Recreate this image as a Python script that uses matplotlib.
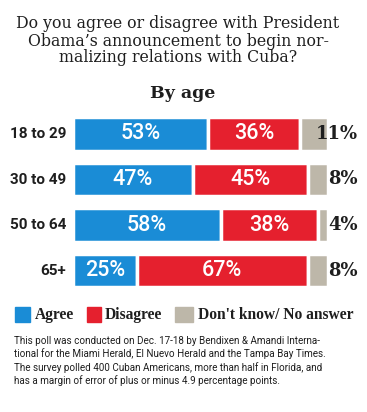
import numpy as np
import matplotlib
matplotlib.use("Agg")
import matplotlib.pyplot as plt

groups = ["18 to 29", "30 to 49", "50 to 64", "65+"]
agree = [53, 47, 58, 25]
disagree = [36, 45, 38, 67]
dont_know = [11, 8, 4, 8]
legend_labels = ["Agree", "Disagree", "Don't know/ No answer"]
title = ("Do you agree or disagree with President\n"
         "Obama\u2019s announcement to begin nor-\n"
         "malizing relations with Cuba?")
subtitle = "By age"
note = ("This poll was conducted on Dec. 17-18 by Bendixen & Amandi Interna-\n"
        "tional for the Miami Herald, El Nuevo Herald and the Tampa Bay Times.\n"
        "The survey polled 400 Cuban Americans, more than half in Florida, and\n"
        "has a margin of error of plus or minus 4.9 percentage points.")

C = {"agree": "#1a8cd6", "disagree": "#e5202e", "dk": "#bdb7a9", "ink": "#1e1e1e"}
SANS = ["Roboto", "DejaVu Sans"]
SLAB = ["DejaVu Serif"]
TIMES = ["Liberation Serif", "DejaVu Serif"]

W, H = 367, 412
fig = plt.figure(figsize=(W / 100, H / 100), dpi=100)
fig.patch.set_facecolor("white")

def px(x, y):
    return x / W, 1 - y / H

fig.text(*px(178, 41), title, ha="center", va="center", fontsize=11.3,
         family=SLAB, color=C["ink"], linespacing=1.0)
fig.text(*px(183, 94), subtitle, ha="center", va="center", fontsize=12.5,
         family=SLAB, weight="bold", color=C["ink"])

ax = fig.add_axes([73 / W, 1 - 292 / H, (328 - 73) / W, 180 / H])
ax.set_xlim(0, 100)
ax.set_ylim(3.4725, -0.4835)
ax.axis("off")

y = np.arange(len(groups))
a = np.array(agree); d = np.array(disagree); k = np.array(dont_know)
ax.barh(y, a, height=0.73, color=C["agree"], edgecolor="white", lw=2.5)
ax.barh(y, d, left=a, height=0.73, color=C["disagree"], edgecolor="white", lw=2.5)
ax.barh(y, k, left=a + d, height=0.73, color=C["dk"], edgecolor="white", lw=2.5)

for i in y:
    ax.text(a[i] / 2, i, f"{a[i]}%", ha="center", va="center", color="white",
            fontsize=15.5, family=SANS, weight="medium")
    ax.text(a[i] + d[i] / 2, i, f"{d[i]}%", ha="center", va="center", color="white",
            fontsize=15.5, family=SANS, weight="medium")
    ax.text(111.8, i, f"{k[i]}%", ha="right", va="center", color=C["ink"],
            fontsize=13, family=SLAB, weight="bold", clip_on=False)
    ax.text(-2.7, i, groups[i], ha="right", va="center", color=C["ink"],
            fontsize=11, family=SANS, weight="bold", clip_on=False)

# legend
for (x0, x1, tx), lab, col in zip([(15, 30, 35), (87, 101, 105), (175, 193, 198)],
                                  legend_labels, [C["agree"], C["disagree"], C["dk"]]):
    fig.patches.append(plt.Rectangle(px(x0, 322), (x1 - x0) / W, 15 / H,
                                     transform=fig.transFigure, color=col))
    fig.text(*px(tx, 315), lab, ha="left", va="center", fontsize=11.2,
             family=TIMES, weight="bold", color=C["ink"])

fig.text(*px(14, 361), note, ha="left", va="center", fontsize=7.1,
         family=SANS, color=C["ink"], linespacing=1.25)

fig.savefig("out.png", dpi=100)
